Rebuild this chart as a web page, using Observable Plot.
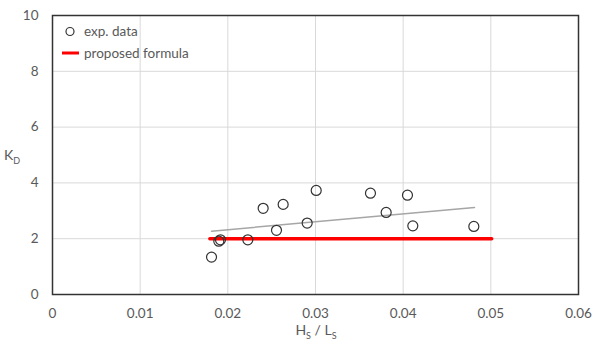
<!DOCTYPE html>
<html><head><meta charset="utf-8">
<script src="https://cdn.jsdelivr.net/npm/d3@7"></script>
<script src="https://cdn.jsdelivr.net/npm/@observablehq/plot@0.6"></script>
<style>
body{margin:0;background:#fff;font-family:Lato,"Open Sans",sans-serif;}
#wrap{position:relative;width:592px;height:342px;}
</style></head><body><div id="wrap"></div>
<script>
const expX = [0.01814,0.01897,0.01916,0.02228,0.02403,0.02555,0.02631,0.02905,0.03008,0.03627,0.03806,0.04049,0.04110,0.04806];
const expY = [1.34,1.91,1.96,1.96,3.09,2.30,3.23,2.56,3.73,3.63,2.94,3.56,2.46,2.44];
const trendX = [0.01814,0.04814];
const trendY = [2.27,3.12];
const formulaX = [0.01795,0.0501];
const formulaY = [2,2];
const xTicks = [0,0.01,0.02,0.03,0.04,0.05,0.06];
const yTicks = [0,2,4,6,8,10];

const exp = expX.map((x,i)=>({x,y:expY[i]}));
const trend = trendX.map((x,i)=>({x,y:trendY[i]}));
const formula = formulaX.map((x,i)=>({x,y:formulaY[i]}));

const txt = "#595959";
const font = "Lato, 'Open Sans', sans-serif";
const chart = Plot.plot({
  width:592, height:342,
  marginLeft:52, marginRight:14, marginTop:15, marginBottom:48,
  style:{fontFamily:font, fontSize:"13.5px", color:txt, background:"#fff"},
  x:{domain:[0,0.06], ticks:xTicks, tickFormat:d=>d===0?"0":String(d), label:null, tickSize:0, tickPadding:14},
  y:{domain:[0,10], ticks:yTicks, label:null, tickSize:0, tickPadding:14},
  marks:[
    Plot.gridX(xTicks,{stroke:"#d9d9d9",strokeOpacity:1}),
    Plot.gridY(yTicks,{stroke:"#d9d9d9",strokeOpacity:1}),
    Plot.frame({stroke:"#333",strokeWidth:1.5}),
    Plot.line(formula,{x:"x",y:"y",stroke:"#ff0000",strokeWidth:3.5}),
    Plot.line(trend,{x:"x",y:"y",stroke:"#a6a6a6",strokeWidth:1.5}),
    Plot.dot(exp,{x:"x",y:"y",r:5,stroke:"#333",strokeWidth:1.2,fill:"none"})
  ]
});
document.getElementById("wrap").appendChild(chart);
const svg = d3.select(chart);
svg.selectAll("[aria-label='x-axis tick label'] text, [aria-label='y-axis tick label'] text").attr("fill",txt);
// axis titles with subscripts
const xl = svg.append("text").attr("x",316).attr("y",335).attr("text-anchor","middle")
  .attr("fill",txt).attr("font-size",14).attr("font-family",font);
xl.append("tspan").text("H");
xl.append("tspan").attr("font-size",9).attr("dy",4).text("S");
xl.append("tspan").attr("dy",-4).text(" / L");
xl.append("tspan").attr("font-size",9).attr("dy",4).text("S");
const yl = svg.append("text").attr("x",4).attr("y",160).attr("text-anchor","start").attr("fill",txt)
  .attr("font-size",14).attr("font-family",font);
yl.append("tspan").text("K");
yl.append("tspan").attr("font-size",9).attr("dy",4).text("D");
// legend
const lg = svg.append("g").attr("font-family",font).attr("font-size",13.5).attr("fill",txt).attr("text-anchor","start");
lg.append("circle").attr("cx",70).attr("cy",31.5).attr("r",4).attr("fill","none").attr("stroke","#333").attr("stroke-width",1.2);
lg.append("text").attr("x",84).attr("y",36).attr("text-anchor","start").text("exp. data");
lg.append("line").attr("x1",62).attr("x2",79).attr("y1",53).attr("y2",53).attr("stroke","#ff0000").attr("stroke-width",3);
lg.append("text").attr("x",84).attr("y",58).attr("text-anchor","start").text("proposed formula");
</script></body></html>
